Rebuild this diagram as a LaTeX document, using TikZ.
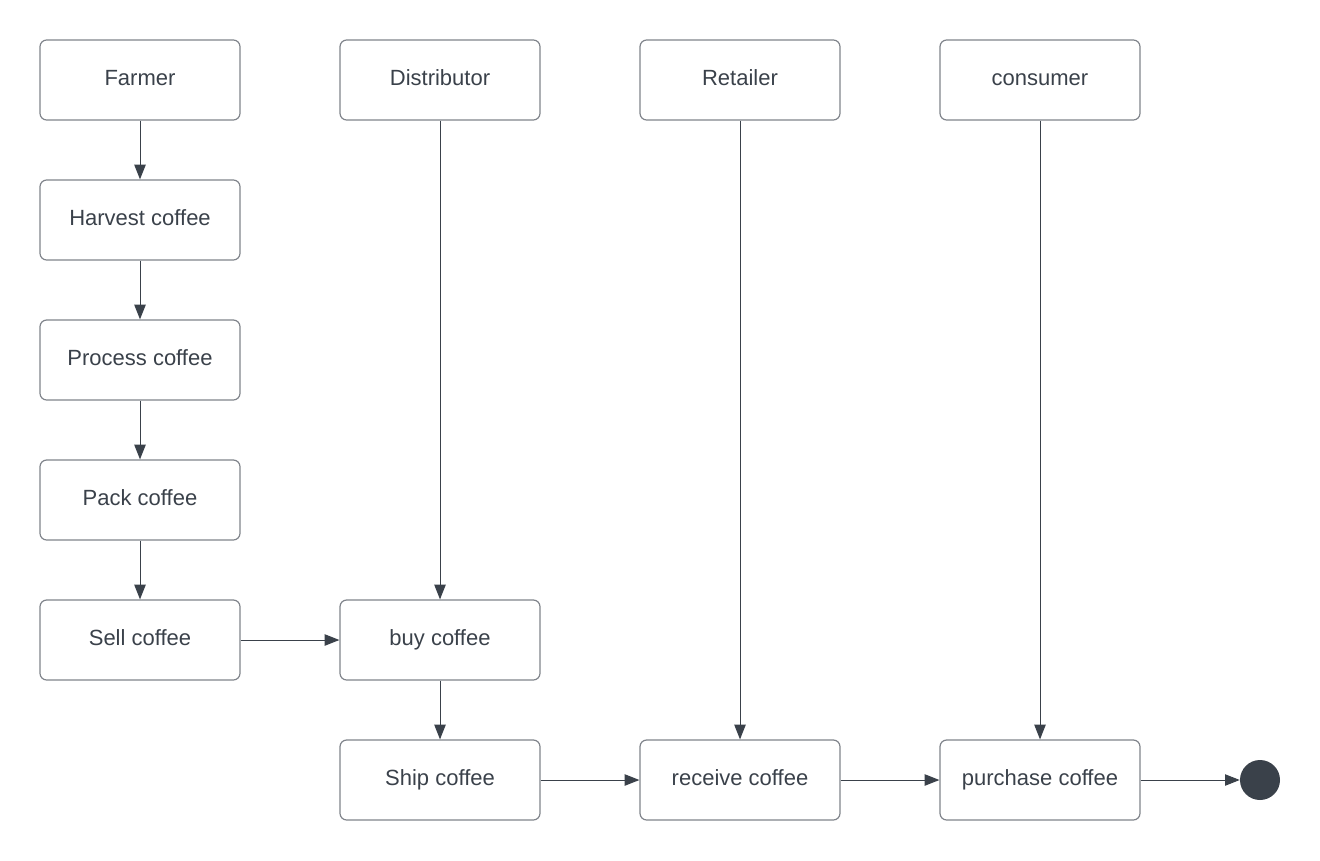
\documentclass[tikz,border=0pt]{standalone}
\usepackage{fontspec}
\setmainfont{Liberation Sans}
\usetikzlibrary{arrows.meta}
\definecolor{boxgray}{HTML}{80848B}
\definecolor{linedark}{HTML}{3A414A}
\begin{document}
\begin{tikzpicture}[x=0.75pt,y=-0.75pt,
    stepbox/.style={draw=boxgray,line width=0.9pt,rounded corners=5pt,
      minimum width=150pt,minimum height=60pt,inner sep=0pt,
      text height=11pt,text depth=3.5pt,
      font=\fontsize{16.5}{18}\selectfont,text=linedark},
    flow/.style={draw=linedark,line width=0.75pt,
      -{Triangle[length=11pt,width=8.5pt]}},
    endpoint/.style={circle,fill=linedark,minimum size=30pt,inner sep=0pt}]
  \useasboundingbox (0,0) rectangle (1320,860);
  % lane heads
  \node[stepbox] (farmer) at (140,80) {Farmer};
  \node[stepbox] (distributor) at (440,80) {Distributor};
  \node[stepbox] (retailer) at (740,80) {Retailer};
  \node[stepbox] (consumer) at (1040,80) {consumer};
  % farmer steps
  \node[stepbox] (harvest) at (140,220) {Harvest coffee};
  \node[stepbox] (process) at (140,360) {Process coffee};
  \node[stepbox] (pack) at (140,500) {Pack coffee};
  \node[stepbox] (sell) at (140,640) {Sell coffee};
  % the rest
  \node[stepbox] (buy) at (440,640) {buy coffee};
  \node[stepbox] (ship) at (440,780) {Ship coffee};
  \node[stepbox] (receive) at (740,780) {receive coffee};
  \node[stepbox] (purchase) at (1040,780) {purchase coffee};
  \node[endpoint] (done) at (1260,780) {};
  \draw[flow] (farmer) -- (harvest);
  \draw[flow] (harvest) -- (process);
  \draw[flow] (process) -- (pack);
  \draw[flow] (pack) -- (sell);
  \draw[flow] (sell) -- (buy);
  \draw[flow] (distributor) -- (buy);
  \draw[flow] (buy) -- (ship);
  \draw[flow] (ship) -- (receive);
  \draw[flow] (retailer) -- (receive);
  \draw[flow] (receive) -- (purchase);
  \draw[flow] (consumer) -- (purchase);
  \draw[flow] (purchase) -- (done);
\end{tikzpicture}
\end{document}
